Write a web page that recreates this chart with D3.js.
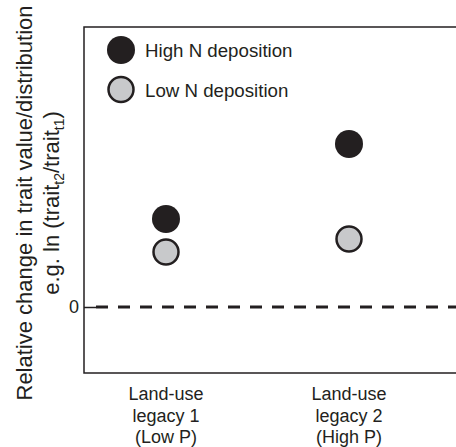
<!DOCTYPE html>
<html><head><meta charset="utf-8">
<script src="https://cdn.jsdelivr.net/npm/d3@7"></script>
<style>body{margin:0;background:#fff}svg{display:block;font-family:"Liberation Sans",Arial,sans-serif}</style>
</head><body><svg id="c" width="456" height="447"></svg>
<script>
const categories = ["legacy1", "legacy2"];
const categoryLabels = [["Land-use","legacy 1","(Low P)"],["Land-use","legacy 2","(High P)"]];
const highN = [0.88, 1.63];
const lowN = [0.55, 0.68];
const seriesNames = ["High N deposition", "Low N deposition"];
const yTicks = [0];

const svg = d3.select("#c");
const m = {l:84, t:27, b:373, r:520};
const x = d3.scalePoint().domain(categories).range([166, 349]);
const y = d3.scaleLinear().domain([-0.66, 2.8]).range([m.b, m.t]);
const ink = "#231f20";

svg.append("path").attr("d", `M${m.r},${m.t}H${m.l}V${m.b}H${m.r}`)
  .attr("fill","none").attr("stroke",ink).attr("stroke-width",1.5);

const yAxis = d3.axisLeft(y).tickValues(yTicks).tickSize(-12).tickPadding(5).tickFormat(d3.format("d"));
const ga = svg.append("g").attr("transform",`translate(${m.l},0)`).call(yAxis);
ga.select(".domain").remove();
ga.selectAll("line").attr("stroke",ink).attr("stroke-width",1.5);
ga.selectAll("text").attr("font-size",18).attr("fill",ink).attr("x",-5).attr("text-anchor","end")
  .attr("font-family","'Liberation Sans',Arial,sans-serif");

svg.append("line").attr("x1",m.l+12).attr("x2",460).attr("y1",y(0)).attr("y2",y(0))
  .attr("stroke",ink).attr("stroke-width",3).attr("stroke-dasharray","12,10");

const r = 13.5;
const pts = [];
categories.forEach((c,i)=>{ pts.push({c, v:highN[i], s:0}); pts.push({c, v:lowN[i], s:1}); });
svg.selectAll("circle.pt").data(pts).join("circle").attr("class","pt")
  .attr("cx",d=>x(d.c)).attr("cy",d=>y(d.v)).attr("r",d=>d.s?r-1:r+0.5)
  .attr("fill",d=>d.s?"#c8c9cb":ink).attr("stroke",ink).attr("stroke-width",d=>d.s?2.5:0);

const lg = svg.append("g");
seriesNames.forEach((n,i)=>{
  const cy = 50 + i*39.5;
  lg.append("circle").attr("cx",121).attr("cy",cy).attr("r",i?r-1:r+0.5)
    .attr("fill",i?"#c8c9cb":ink).attr("stroke",ink).attr("stroke-width",i?2.5:0);
  lg.append("text").attr("x",145).attr("y",cy+7).attr("font-size",18.7).attr("fill",ink).text(n);
});

categories.forEach((c,i)=>{
  const t = svg.append("text").attr("text-anchor","middle").attr("font-size",18).attr("fill",ink);
  categoryLabels[i].forEach((s,j)=>t.append("tspan").attr("x",x(c)).attr("y",400+j*21.5).text(s));
});

const yg = svg.append("g").attr("transform","translate(0,203) rotate(-90)");
yg.append("text").attr("x",0).attr("y",32).attr("text-anchor","middle")
  .attr("font-size",22).attr("fill",ink).text("Relative change in trait value/distribution");
const l2 = yg.append("text").attr("x",0).attr("y",59).attr("text-anchor","start")
  .attr("font-size",22).attr("fill",ink);
l2.append("tspan").text("e.g. ln (trait");
l2.append("tspan").attr("font-size",14).attr("dy",5).text("t2");
l2.append("tspan").attr("dy",-5).text("/trait");
l2.append("tspan").attr("font-size",14).attr("dy",5).text("t1");
l2.append("tspan").attr("dy",-5).text(")");
const w2 = l2.node().getComputedTextLength();
l2.attr("x", -w2/2);
</script></body></html>
